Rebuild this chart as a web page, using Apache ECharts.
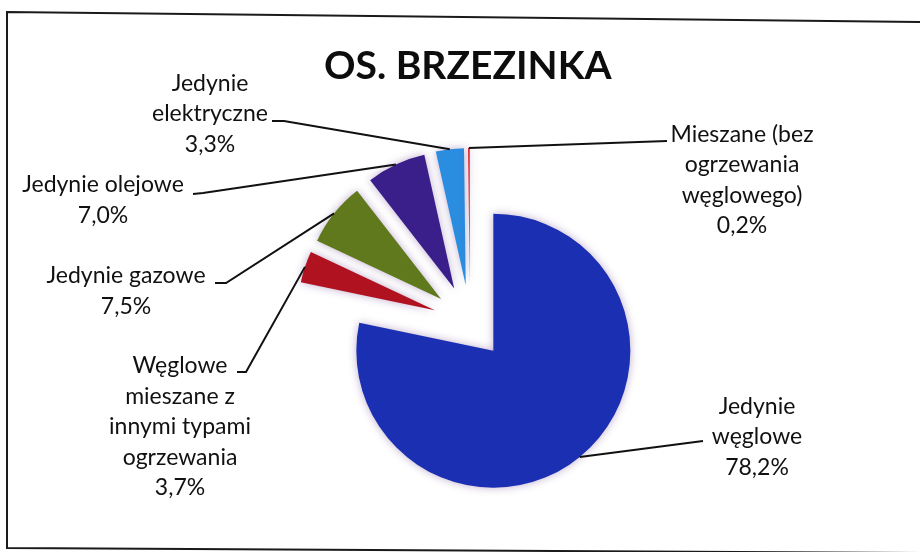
<!DOCTYPE html>
<html>
<head>
<meta charset="utf-8">
<script src="https://cdn.jsdelivr.net/npm/echarts@6/dist/echarts.min.js"></script>
<style>
  html, body { margin: 0; padding: 0; background: #fff; }
  #main { width: 920px; height: 552px; }
</style>
</head>
<body>
<div id="main"></div>
<script>
// dane z wykresu (udzial typow ogrzewania, %)
var categories = [
    'Jedynie\nwęglowe',
    'Węglowe\nmieszane z\ninnymi typami\nogrzewania',
    'Jedynie gazowe',
    'Jedynie olejowe',
    'Jedynie\nelektryczne',
    'Mieszane (bez\nogrzewania\nwęglowego)'
];
var values = [78.2, 3.7, 7.5, 7.0, 3.3, 0.2];
var colors = ['#1b2fb2', '#b0121f', '#5f791c', '#3a1e8a', '#2b8de0', '#e3202a'];

// polozenie etykiet: srodek bloku tekstu, potem koniec linii przy tekscie (zalamanie, koniec)
var labelPos = [[757, 437], [180, 427], [126, 291], [103, 200], [210, 114], [742, 180]];
var lineEnds = [
    [[703, 441], [703, 441]],
    [[246, 372], [237, 372]],
    [[226, 283], [215, 283]],
    [[203, 193], [193, 194]],
    [[284, 121], [272, 121]],
    [[667, 141], [667, 141]]
];

var explode = 37;

var myChart = echarts.init(document.getElementById('main'));

var pieData = values.map(function (v, i) {
    return {
        value: v,
        name: categories[i],
        selected: true,
        itemStyle: { color: colors[i] }
    };
});

option = {
    title: {
        text: 'OS. BRZEZINKA',
        left: 319,
        top: 42,
        textStyle: {
            fontFamily: 'Lato',
            fontWeight: 'bold',
            fontSize: 39,
            color: '#0d0d0d'
        }
    },
    series: [{
        name: 'Ogrzewanie',
        type: 'pie',
        center: [470, 322],
        radius: 137,
        startAngle: 90,
        clockwise: true,
        selectedMode: 'multiple',
        selectedOffset: explode,
        animation: false,
        data: pieData,
        itemStyle: {
            shadowBlur: 8,
            shadowColor: 'rgba(70, 20, 110, 0.35)'
        },
        label: { show: false },
        labelLine: { show: false },
        emphasis: { disabled: true }
    }]
};

myChart.setOption(option);

// etykiety i linie odniesienia - poczatek linii liczony z ukladu wycinka
var data = myChart.getModel().getSeriesByIndex(0).getData();
var graphics = [{
    type: 'polyline',
    shape: { points: [[920, 22], [7, 12], [7, 548], [920, 553]] },
    style: { fill: 'none', stroke: '#1a1a1a', lineWidth: 2 },
    silent: true
}];

values.forEach(function (v, i) {
    var lay = data.getItemLayout(i);
    var mid = (lay.startAngle + lay.endAngle) / 2;
    var rr = lay.r + explode;
    var start = [lay.cx + Math.cos(mid) * rr, lay.cy + Math.sin(mid) * rr];
    graphics.push({
        type: 'polyline',
        shape: { points: [start, lineEnds[i][0], lineEnds[i][1]] },
        style: { fill: 'none', stroke: '#111', lineWidth: 2 },
        silent: true,
        z: 10
    });
    graphics.push({
        type: 'text',
        x: labelPos[i][0],
        y: labelPos[i][1],
        style: {
            text: categories[i] + '\n' + v.toFixed(1).replace('.', ',') + '%',
            fill: '#111',
            font: '23px Lato',
            lineHeight: 30.5,
            align: 'center',
            verticalAlign: 'middle'
        },
        silent: true,
        z: 10
    });
});

myChart.setOption({ graphic: graphics });
</script>
</body>
</html>
